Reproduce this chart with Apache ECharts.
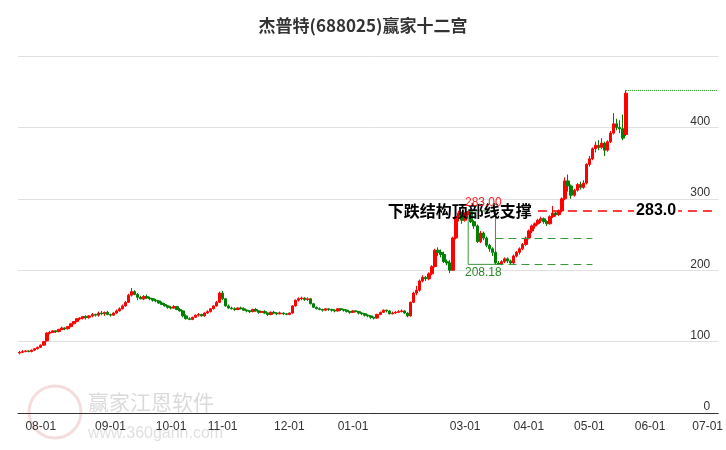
<!DOCTYPE html>
<html>
<head>
<meta charset="UTF-8" />
<title>杰普特(688025)赢家十二宫</title>
<script src="https://cdn.jsdelivr.net/npm/echarts@6/dist/echarts.min.js"></script>
<style>
    body { margin: 0; background: #fff; }
    #main { width: 726px; height: 450px; }
</style>
</head>
<body>
<div id="main"></div>
<script>
// trading calendar pieces
var startDay = '2023-07-21',
    endDay = '2024-07-04';
var holidays = ['2023-09-29', '2023-10-02', '2023-10-03', '2023-10-04', '2023-10-05', '2023-10-06',
    '2024-01-01', '2024-02-09', '2024-02-12', '2024-02-13', '2024-02-14', '2024-02-15', '2024-02-16',
    '2024-04-04', '2024-04-05', '2024-05-01', '2024-05-02', '2024-05-03', '2024-06-10'];
var hiddenMonths = ['2024-02'];

// [open, close, low, high]
var kdata = [
    [84,85,82,87],[85,86,84,88],[86,87,85,88],[87,86,85,88],[86,88,85,89],[88,90,87,91],[90,92,89,93],[92,95,91,96],
    [95,100,94,101],[101,112,100,113],[112,113,110,115],[113,115,112,116],[115,114,112,116],[114,117,113,118],[117,119,116,121],[119,118,116,120],
    [118,121,117,122],[121,125,120,126],[125,128,124,129],[128,132,127,133],[132,133,130,134],[133,135,131,136],[135,134,131,137],[134,136,132,137],[136,138,134,140],[138,137,135,139],
    [137,140,135,142],[140,139,137,143],[139,141,136,142],[141,138,137,143],[138,137,135,139],[137,140,136,141],[140,143,139,145],[143,146,142,148],[146,150,145,152],[150,155,149,157],
    [155,165,154,167],[165,170,163,175],[170,166,165,172],[166,162,158,168],[162,160,159,164],[160,163,158,165],[163,161,160,166],[161,160,158,163],[160,158,156,161],[158,157,155,160],
    [157,154,153,158],[154,152,151,156],[152,150,149,154],[150,148,146,151],[148,147,145,150],[147,149,146,151],[149,145,144,150],[145,143,142,147],[143,136,134,144],[136,132,131,138],
    [132,131,130,134],[131,134,130,135],[134,137,133,138],[137,138,135,140],[138,136,135,139],[136,140,135,141],[140,142,139,144],[142,146,141,147],[146,150,145,151],[150,155,149,157],
    [155,168,154,170],[168,160,158,171],[160,150,149,161],[150,147,146,152],[147,146,145,149],[146,145,143,148],[145,147,144,148],[147,146,145,149],[146,144,143,148],[144,143,141,145],
    [143,142,140,144],[142,145,141,146],[145,143,142,147],[143,141,139,144],[141,142,140,143],[142,140,139,144],[140,138,136,141],[138,141,137,142],[141,140,139,143],[140,139,137,141],
    [139,140,138,142],[140,139,137,141],[139,138,137,140],[138,140,137,141],[140,150,139,151],[150,158,149,159],[158,160,156,162],[160,161,158,163],[161,159,157,162],[159,160,157,162],
    [160,153,152,161],[153,148,147,154],[148,146,145,149],[146,145,144,148],[145,144,142,146],[144,146,143,147],[146,145,143,147],[145,144,142,146],[144,143,141,145],[143,146,142,147],
    [146,145,143,147],[145,144,142,146],[144,142,141,145],[142,141,139,143],[141,143,140,144],[143,142,141,144],[142,140,138,143],[140,139,137,141],[139,137,135,140],[137,136,134,138],
    [136,134,132,137],[134,133,131,135],[133,138,132,139],[138,141,137,142],[141,144,140,145],[144,143,141,145],[143,139,138,144],[139,140,138,142],[140,141,139,143],[141,142,140,144],
    [142,143,141,145],[143,140,139,144],[140,136,134,141],[136,155,135,156],[155,168,154,170],[168,172,165,178],[172,185,170,187],[185,190,183,193],[190,188,185,192],[188,195,186,197],
    [195,205,193,207],[205,228,204,230],[228,225,220,232],[225,222,218,229],[222,212,210,226],[212,210,207,215],[210,200,196,214],[200,245,199,247],[245,275,243,278],[275,280,268,283],[280,270,265,282],
    [270,278,268,281],[278,282,272,283],[282,268,266,283],[268,262,258,270],[262,240,238,264],[240,252,238,255],[252,245,242,254],[245,235,232,247],[235,230,226,237],[230,225,220,232],
    [225,210,208.18,227],[210,208,208.18,213],[208,212,207,214],[212,216,210,218],[216,213,210,218],[213,210,208.5,215],[210,220,209,222],[220,225,218,227],[225,230,222,232],[230,236,228,238],
    [236,245,234,247],[245,255,243,257],[255,262,252,264],[262,265,258,267],[265,270,263,272],[270,272,266,275],[272,268,265,274],[268,265,262,270],[265,275,264,277],[275,280,273,290],
    [280,278,275,282],[278,283,276,285],[283,300,281,302],[300,325,298,330],[325,318,310,334],[318,305,300,320],[305,312,303,314],[312,320,310,322],[320,316,313,324],[316,322,314,326],
    [322,348,320,350],[348,356,345,360],[356,370,354,372],[370,375,365,380],[375,372,368,382],[372,378,370,385],[378,368,360,380],[368,380,366,382],[380,392,378,395],[392,405,390,420],
    [405,400,396,412],[400,398,392,410],[398,385,382,418],[390,448,388,452]
];

var markTop = 283.0,
    markLow = 208.18,
    markMid = 245,
    lastHigh = 452;
var yTicks = [0, 100, 200, 300, 400];

// build trading days between startDay and endDay
var dates = [];
var d = new Date(startDay + 'T00:00:00Z');
var endD = new Date(endDay + 'T00:00:00Z');
while (d <= endD) {
    var s = d.toISOString().slice(0, 10);
    var wd = d.getUTCDay();
    if (wd != 0 && wd != 6 && holidays.indexOf(s) < 0) dates.push(s);
    d.setUTCDate(d.getUTCDate() + 1);
}
// first trading day of each month gets a tick
var monthStart = {};
for (var i = 1; i < dates.length; i++) {
    var m = dates[i].slice(0, 7);
    if (m != dates[i - 1].slice(0, 7) && hiddenMonths.indexOf(m) < 0) monthStart[i] = true;
}
var lastCat = dates[dates.length - 1];

var myChart = echarts.init(document.getElementById('main'));
myChart.setOption({
    animation: false,
    title: {
        text: '杰普特(688025)赢家十二宫',
        left: 'center',
        top: 12,
        textStyle: { fontSize: 17, fontWeight: 'bold', color: '#333', fontFamily: 'Noto Sans CJK SC' }
    },
    graphic: [
        { type: 'circle', shape: { cx: 55, cy: 412, r: 26 }, style: { fill: 'none', stroke: 'rgba(220,120,120,0.25)', lineWidth: 3 } },
        { type: 'text', left: 88, top: 392, style: { text: '赢家江恩软件', fontSize: 21, fill: 'rgba(150,150,150,0.35)', fontFamily: 'Noto Sans CJK SC' } },
        { type: 'text', left: 88, top: 426, style: { text: 'www.360gann.com', fontSize: 16, fill: 'rgba(150,150,150,0.3)' } }
    ],
    grid: { left: 18, right: 4, top: 56, bottom: 37 },
    xAxis: {
        type: 'category',
        data: dates,
        boundaryGap: true,
        axisLine: { lineStyle: { color: '#333' } },
        axisTick: { alignWithLabel: true, length: 6, interval: function (idx) { return !!monthStart[idx]; }, lineStyle: { color: '#333' } },
        axisLabel: {
            interval: function (idx) { return !!monthStart[idx]; },
            formatter: function (v) { return v.slice(5, 7) + '-01'; },
            color: '#333', fontSize: 12
        },
        splitLine: { show: false }
    },
    yAxis: {
        type: 'value',
        position: 'right',
        min: 0,
        max: 500,
        interval: 100,
        axisLine: { show: false },
        axisTick: { show: false },
        axisLabel: {
            inside: true,
            verticalAlign: 'bottom',
            color: '#333',
            fontSize: 12,
            formatter: function (v) { return yTicks.indexOf(v) >= 0 ? String(v) : ''; }
        },
        splitLine: { lineStyle: { color: '#e0e0e0' } }
    },
    series: [{
        type: 'candlestick',
        data: kdata,
        barWidth: 3,
        itemStyle: { color: '#ff0000', color0: '#008000', borderColor: '#ff0000', borderColor0: '#008000', borderWidth: 1 },
        markArea: {
            silent: true,
            itemStyle: { color: 'rgba(0,0,0,0)', borderColor: '#3a9a3a', borderWidth: 1 },
            data: [[{ coord: [dates[148], markTop] }, { coord: [dates[157], markLow] }]]
        },
        markLine: {
            silent: true,
            symbol: 'none',
            label: { show: false },
            data: [
                [{ coord: [dates[171], markTop], lineStyle: { color: 'red', type: [9, 6], width: 1.6 } },
                 { coord: [lastCat, markTop], lineStyle: { color: 'red' } }],
                [{ coord: [dates[157], markMid], lineStyle: { color: '#3a9a3a', type: [8, 5], width: 1 } },
                 { coord: [dates[189], markMid] }],
                [{ coord: [dates[157], markLow], lineStyle: { color: '#3a9a3a', type: [8, 5], width: 1 } },
                 { coord: [dates[189], markLow] }],
                [{ coord: [dates[200], lastHigh], lineStyle: { color: '#008000', type: 'dotted', width: 1 } },
                 { coord: [lastCat, lastHigh] }]
            ]
        },
        markPoint: {
            silent: true,
            symbol: 'circle',
            symbolSize: 0,
            data: [
                { coord: [dates[169], markTop], label: { show: true, position: 'left', formatter: '下跌结构顶部线支撑', color: '#000', fontSize: 16, fontWeight: 'bold', fontFamily: 'Noto Sans CJK SC', distance: 0 } },
                { coord: [dates[210], markTop], label: { show: true, position: 'inside', formatter: '283.0', color: '#000', fontSize: 16, fontWeight: 'bold', backgroundColor: '#fff', padding: [0, 2] } },
                { coord: [dates[153], markTop], label: { show: true, position: 'top', formatter: '283.00', color: '#ff2020', fontSize: 12, distance: 2 } },
                { coord: [dates[153], markLow], label: { show: true, position: 'bottom', formatter: '208.18', color: '#2a8a2a', fontSize: 12, distance: 2 } }
            ]
        }
    }]
});
</script>
</body>
</html>
